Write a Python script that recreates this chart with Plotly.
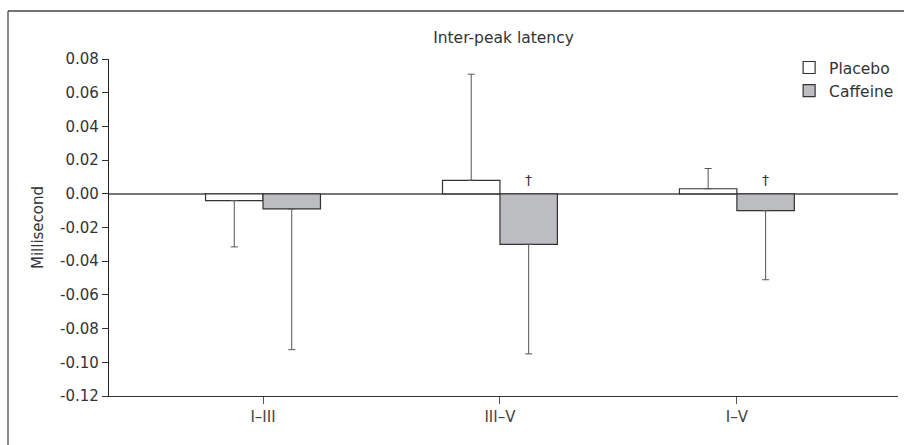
import plotly.graph_objects as go

categories = ["I\u2013III", "III\u2013V", "I\u2013V"]
placebo_mean = [-0.004, 0.008, 0.003]
placebo_err = [0.0275, 0.063, 0.012]
caffeine_mean = [-0.009, -0.030, -0.010]
caffeine_err = [0.0835, 0.065, 0.041]
dagger_groups = [1, 2]  # caffeine bars marked with a dagger
y_ticks = [0.08, 0.06, 0.04, 0.02, 0.00, -0.02, -0.04, -0.06, -0.08, -0.10, -0.12]

FONT = "DejaVu Sans"
BARGAP = 0.515


def split_err(means, errs):
    up = [e if m >= 0 else 0 for m, e in zip(means, errs)]
    down = [e if m < 0 else 0 for m, e in zip(means, errs)]
    return up, down


pu, pd_ = split_err(placebo_mean, placebo_err)
cu, cd = split_err(caffeine_mean, caffeine_err)

err_style = dict(type="data", symmetric=False, color="#555555", thickness=1, width=3.5)

fig = go.Figure()
fig.add_trace(go.Bar(
    name="Placebo", x=categories, y=placebo_mean,
    marker=dict(color="white", line=dict(color="#333333", width=1.2)),
    error_y=dict(array=pu, arrayminus=pd_, **err_style),
))
fig.add_trace(go.Bar(
    name="Caffeine", x=categories, y=caffeine_mean,
    marker=dict(color="#bcbdc1", line=dict(color="#333333", width=1.2)),
    error_y=dict(array=cu, arrayminus=cd, **err_style),
))

bar_w = (1 - BARGAP) / 2
for g in dagger_groups:
    fig.add_annotation(
        x=g + bar_w / 2, y=0, xref="x", yref="y", text="\u2020",
        showarrow=False, yanchor="bottom", yshift=4,
        font=dict(family=FONT, size=14, color="#333333"),
    )

# outer frame (left and top edges as in the reference crop)
fig.add_shape(type="line", xref="paper", yref="paper",
              x0=-0.128, x1=-0.128, y0=-0.2, y1=1.1426,
              line=dict(color="#8a8a8a", width=2))
fig.add_shape(type="line", xref="paper", yref="paper",
              x0=-0.128, x1=1.02, y0=1.1426, y1=1.1426,
              line=dict(color="#444444", width=1.5))

fig.update_layout(
    width=904, height=445,
    margin=dict(l=109, r=6, t=59, b=49, autoexpand=False),
    paper_bgcolor="white", plot_bgcolor="white",
    barmode="group", bargap=BARGAP, bargroupgap=0,
    font=dict(family=FONT, size=14, color="#333333"),
    title=dict(text="Inter-peak latency", x=0.5, xref="paper", y=1 - 38 / 445, yref="container",
               xanchor="center", yanchor="middle",
               font=dict(family=FONT, size=15.5, color="#333333")),
    showlegend=True,
    legend=dict(x=0.862, y=1.024, xanchor="left", yanchor="top",
                bgcolor="rgba(0,0,0,0)", font=dict(family=FONT, size=15.5, color="#333333"),
                tracegroupgap=0, itemwidth=30),
    xaxis=dict(
        range=[-0.65, 2.68], showline=True, linecolor="#333333", linewidth=1.2,
        ticks="outside", ticklen=7, tickcolor="#555555", tickwidth=1,
        tickfont=dict(family=FONT, size=15, color="#444444"),
        showgrid=False, zeroline=False, automargin=False,
    ),
    yaxis=dict(
        range=[-0.12, 0.08], tickvals=y_ticks,
        ticktext=[f"{v:.2f}" for v in y_ticks],
        showline=True, linecolor="#222222", linewidth=1.2,
        ticks="outside", ticklen=6, tickcolor="#333333", tickwidth=1,
        tickfont=dict(family=FONT, size=15, color="#333333"),
        showgrid=False, zeroline=True, zerolinecolor="#777777", zerolinewidth=1.5,
        automargin=False,
        title=dict(text="Millisecond", standoff=12,
                   font=dict(family=FONT, size=15, color="#333333")),
    ),
)

fig.write_html("out.html", config={"displayModeBar": False},
               post_script="document.body.style.margin='0';document.body.style.padding='0';")
